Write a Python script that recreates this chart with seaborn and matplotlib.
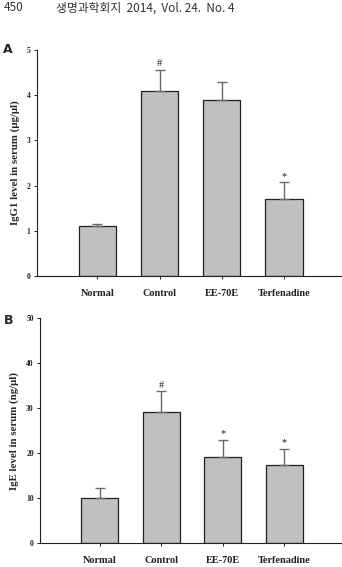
import pandas as pd
import seaborn as sns
import matplotlib.pyplot as plt
import numpy as np

# data
groups = ['Normal', 'Control', 'EE-70E', 'Terfenadine']
igg1_mean = [1.1, 4.1, 3.9, 1.7]
igg1_err = [0.06, 0.46, 0.39, 0.37]
igg1_marks = ['', '#', '', '*']
ige_mean = [10.1, 29.1, 19.1, 17.3]
ige_err = [2.1, 4.6, 3.9, 3.7]
ige_marks = ['', '#', '*', '*']

sns.set_theme(style='ticks')
plt.rcParams['font.family'] = ['Liberation Serif', 'DejaVu Serif']

fig = plt.figure(figsize=(3.42, 5.67), dpi=100)
ax_a = fig.add_axes([0.108, 0.513, 0.89, 0.399])
ax_b = fig.add_axes([0.117, 0.042, 0.88, 0.397])


def draw_panel(ax, means, errs, marks, ymax, ystep, ylabel, mark_off):
    df = pd.DataFrame({'group': groups, 'value': means})
    sns.barplot(data=df, x='group', y='value', ax=ax, color='#c0c0c0',
                saturation=1, width=0.6, edgecolor='#202020', linewidth=0.9,
                errorbar=None)
    x = np.arange(len(groups))
    ax.errorbar(x, means, yerr=[np.zeros(len(errs)), errs], fmt='none',
                ecolor='#6a6a6a', elinewidth=1.0, capsize=3.5, capthick=1.0)
    for xi, m, e, mk in zip(x, means, errs, marks):
        if mk:
            ax.text(xi, m + e + mark_off, mk, ha='center', va='bottom',
                    fontsize=7.5, color='#202020')
    ax.set_ylim(0, ymax)
    ax.set_xlim(-0.97, 3.92)
    ax.set_yticks(np.arange(0, ymax + ystep / 2, ystep))
    ax.set_xlabel('')
    ax.set_ylabel(ylabel, fontsize=7.8, fontweight='bold', labelpad=5)
    for s in ['top', 'right']:
        ax.spines[s].set_visible(False)
    for s in ['left', 'bottom']:
        ax.spines[s].set_linewidth(0.8)
        ax.spines[s].set_color('#202020')
    ax.tick_params(axis='y', labelsize=5.5, length=2.5, width=0.7, pad=2,
                   colors='#202020')
    ax.tick_params(axis='x', labelsize=7.4, length=2.5, width=0.7, pad=7,
                   colors='#202020')
    for lab in ax.get_yticklabels() + ax.get_xticklabels():
        lab.set_fontweight('bold')


draw_panel(ax_a, igg1_mean, igg1_err, igg1_marks, 5, 1,
           'IgG1 level in serum (μg/μl)', 0.03)
draw_panel(ax_b, ige_mean, ige_err, ige_marks, 50, 10,
           'IgE level in serum (ng/μl)', 0.3)

fig.text(0.01, 0.912, 'A', fontsize=9, fontweight='bold',
         family=['DejaVu Sans'], va='center', ha='left')
fig.text(0.01, 0.435, 'B', fontsize=9, fontweight='bold',
         family=['DejaVu Sans'], va='center', ha='left')

fig.text(0.01, 0.986, '450', fontsize=8.5, color='#333333',
         family=['Noto Sans CJK KR', 'DejaVu Sans'], va='center', ha='left')
fig.text(0.165, 0.986, '생명과학회지  2014,  Vol. 24.  No. 4', fontsize=8.5,
         color='#333333', family=['Noto Sans CJK KR', 'DejaVu Sans'],
         va='center', ha='left')

fig.savefig('out.png', dpi=100)
